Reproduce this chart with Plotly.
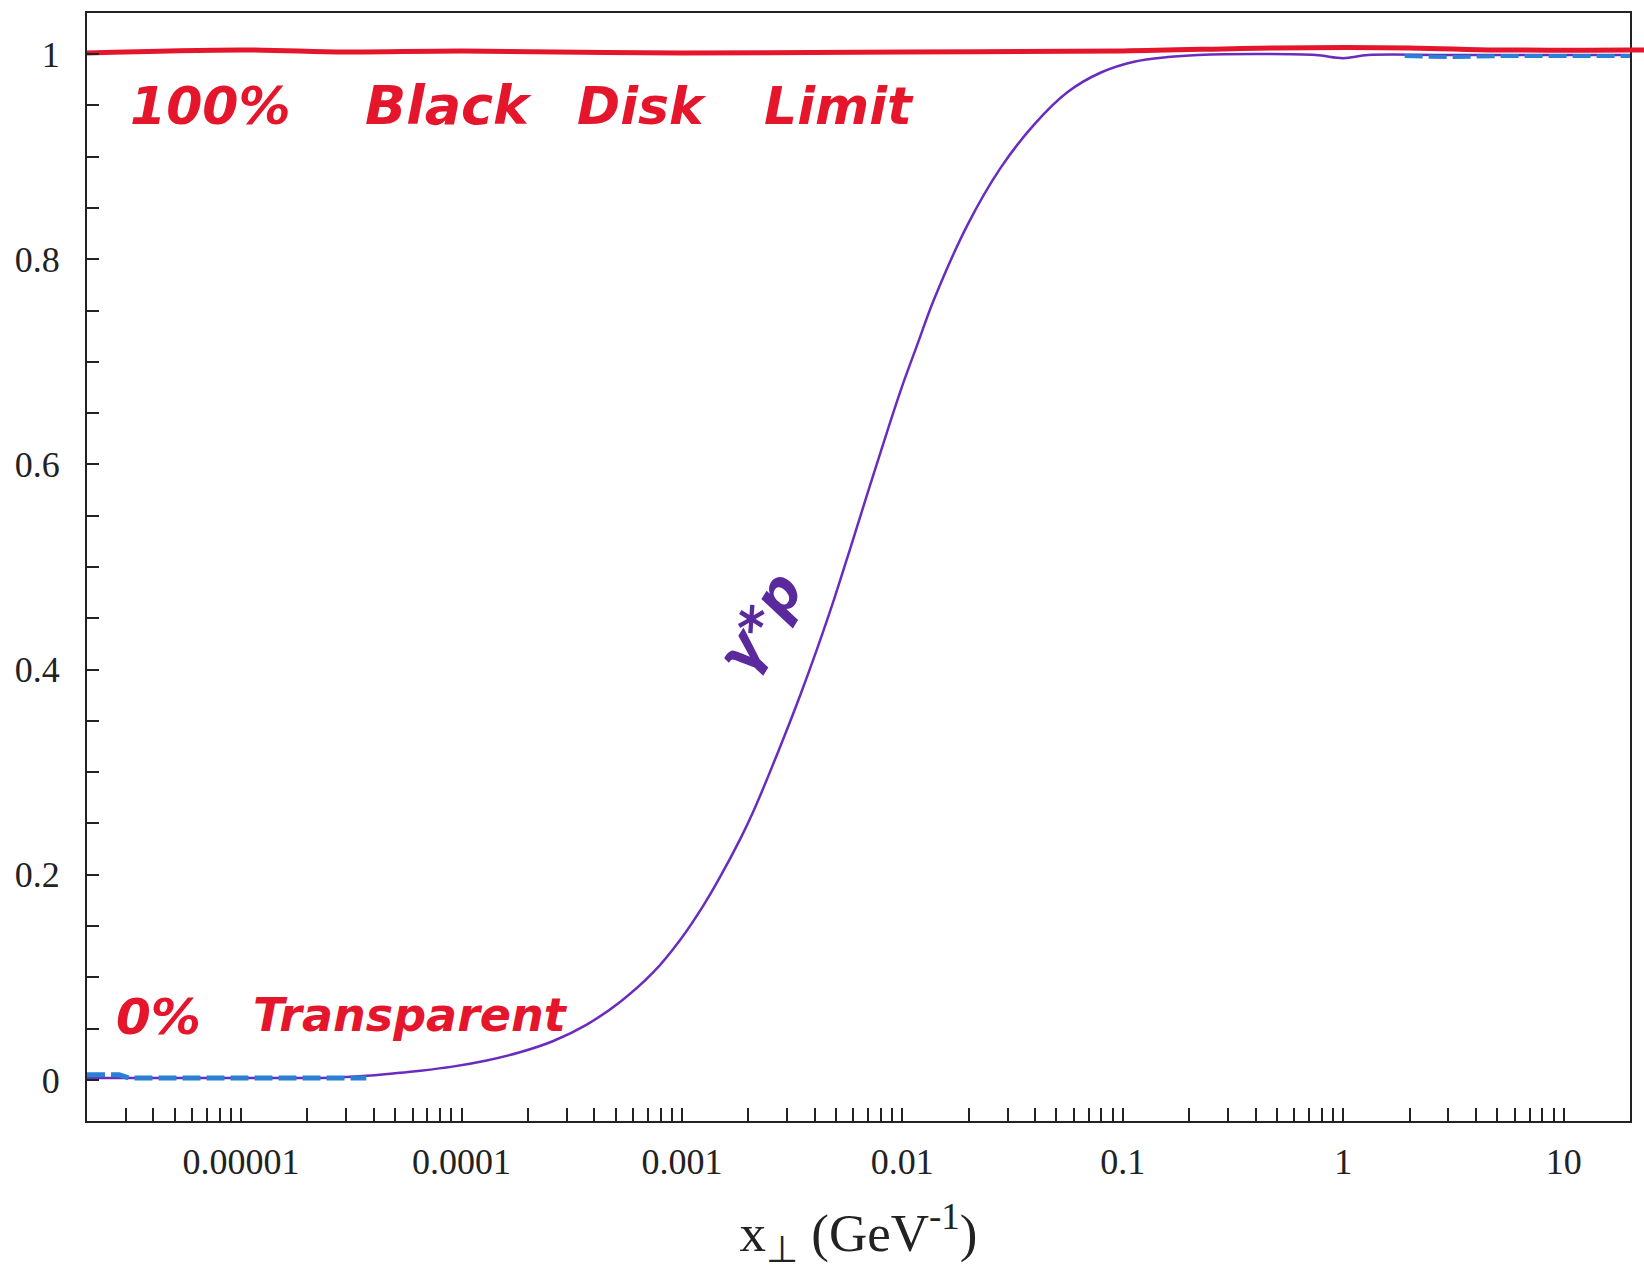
import plotly.graph_objects as go

# ---------------- data ----------------
x_curve = [2e-6, 5e-6, 1e-5, 2e-5, 2.8e-5, 3.7e-5, 5e-5, 6.5e-5, 9.1e-5, 1.3e-4,
           1.84e-4, 2.61e-4, 3.7e-4, 5.24e-4, 7.42e-4, 9.85e-4, 1.25e-3, 1.49e-3,
           1.84e-3, 2.11e-3, 2.43e-3, 2.89e-3, 3.44e-3, 4.1e-3, 4.89e-3, 5.8e-3,
           6.93e-3, 9.82e-3, 1.17e-2, 1.387e-2, 1.97e-2, 2.79e-2, 3.95e-2, 5.62e-2,
           7.96e-2, 0.1125, 0.16, 0.22, 0.4, 0.75, 1.0, 1.3, 3.0, 20.0]
y_curve = [0.002, 0.002, 0.002, 0.002, 0.0025, 0.004, 0.0065, 0.009, 0.013, 0.019,
           0.027, 0.038, 0.054, 0.076, 0.105, 0.137, 0.170, 0.198,
           0.235, 0.262, 0.293, 0.333, 0.375, 0.420, 0.468, 0.518,
           0.571, 0.672, 0.717, 0.760, 0.833, 0.889, 0.931, 0.963,
           0.982, 0.9925, 0.997, 0.999, 1.000, 0.999, 0.996, 0.999, 0.999, 0.999]

# blue overlays (hand traced)
x_blue_left = [2e-6, 2.8e-6, 3.1e-6, 1e-5, 3.7e-5]
y_blue_left = [0.005, 0.005, 0.002, 0.002, 0.002]
x_blue_right = [1.9, 3.0, 5.0, 10.0, 20.0]
y_blue_right = [0.998, 0.997, 0.998, 0.998, 0.998]

# red hand-drawn "black disk limit" line
x_red = [2e-6, 1e-5, 3e-5, 1e-4, 1e-3, 1e-2, 0.1, 0.5, 2.0, 5.0, 20.0]
y_red = [1.001, 1.004, 1.002, 1.003, 1.001, 1.002, 1.003, 1.006, 1.006, 1.004, 1.004]

# axis ticks
decades = [1e-5, 1e-4, 1e-3, 1e-2, 1e-1, 1, 10]
decade_labels = ["0.00001", "0.0001", "0.001", "0.01", "0.1", "1", "10"]
y_ticks = [0, 0.2, 0.4, 0.6, 0.8, 1]
y_tick_labels = ["0", "0.2", "0.4", "0.6", "0.8", "1"]

# tick positions at every integer multiple of each decade
tickvals, ticktext = [], []
for e in range(-6, 2):
    for m in range(1, 10):
        v = m * 10.0 ** e
        if 2.5e-6 < v < 15:
            tickvals.append(v)
            lab = ""
            for d, t in zip(decades, decade_labels):
                if abs(v - d) / d < 1e-9:
                    lab = t
            ticktext.append(lab)

RED = "#e5162c"
PURPLE = "#6a2cbf"
BLUE = "#2a80d6"

fig = go.Figure()
fig.add_trace(go.Scatter(x=x_curve, y=y_curve, mode="lines",
                         line=dict(color=PURPLE, width=2.5, shape="spline", smoothing=1.0),
                         showlegend=False, hoverinfo="skip"))
fig.add_trace(go.Scatter(x=x_blue_left, y=y_blue_left, mode="lines",
                         line=dict(color=BLUE, width=5, dash="18px,6px"),
                         showlegend=False, hoverinfo="skip"))
fig.add_trace(go.Scatter(x=x_blue_right, y=y_blue_right, mode="lines",
                         line=dict(color=BLUE, width=4, dash="18px,6px"),
                         showlegend=False, hoverinfo="skip"))
fig.add_trace(go.Scatter(x=x_red, y=y_red, mode="lines",
                         line=dict(color=RED, width=5, shape="spline"),
                         showlegend=False, hoverinfo="skip"))

# overhang of the red stroke past the frame
fig.add_shape(type="line", xref="paper", yref="y", x0=1.0, x1=1.03,
              y0=y_red[-1], y1=y_red[-1], line=dict(color=RED, width=5))

L, R, T, B = 87, 1630, 11, 1121
W, H = R - L, B - T


def px(X):
    return (X - L) / W


def py(Y):
    return (B - Y) / H


hand = dict(family="DejaVu Sans", style="italic", weight="bold")

notes = [
    ("100%", 210, 104, 52, RED, 0),
    ("Black", 448, 104, 54, RED, 0),
    ("Disk", 642, 104, 52, RED, 0),
    ("Limit", 839, 104, 52, RED, 0),
    ("0%", 158, 1017, 50, RED, 0),
    ("Transparent", 410, 1015, 46, RED, 0),
    ("γ*p", 760, 622, 56, "#5a2a9c", -58),
]
for txt, X, Y, sz, col, ang in notes:
    fig.add_annotation(x=px(X), y=py(Y), xref="paper", yref="paper", text=txt,
                       showarrow=False, textangle=ang,
                       font=dict(size=sz, color=col, **hand),
                       xanchor="center", yanchor="middle")

fig.update_layout(
    width=1644, height=1272,
    margin=dict(l=L, r=1644 - R, t=T, b=1272 - B),
    paper_bgcolor="white", plot_bgcolor="white",
    font=dict(family="Liberation Serif", color="#222"),
    xaxis=dict(type="log", range=[-5.699, 1.301],
               tickmode="array", tickvals=tickvals, ticktext=ticktext,
               ticks="inside", ticklen=13, tickwidth=1.5, tickcolor="#222",
               showgrid=False, zeroline=False,
               showline=True, linecolor="#222", linewidth=2, mirror=True,
               tickfont=dict(size=36, family="Liberation Serif", color="#222"),
               ticklabelstandoff=8,
               title=dict(text="x<sub>⊥</sub> (GeV<sup>-1</sup>)",
                          font=dict(size=53, family="Liberation Serif", color="#222"),
                          standoff=33)),
    yaxis=dict(range=[-0.04, 1.04],
               tickmode="array", tickvals=y_ticks, ticktext=y_tick_labels,
               ticks="inside", ticklen=12, tickwidth=2, tickcolor="#222",
               minor=dict(dtick=0.05, ticks="inside", ticklen=12, tickwidth=1.5,
                          tickcolor="#222", showgrid=False),
               showgrid=False, zeroline=False,
               showline=True, linecolor="#222", linewidth=2, mirror=True,
               tickfont=dict(size=36, family="Liberation Serif", color="#222"),
               ticklabelstandoff=18),
)

fig.write_html("out.html")
